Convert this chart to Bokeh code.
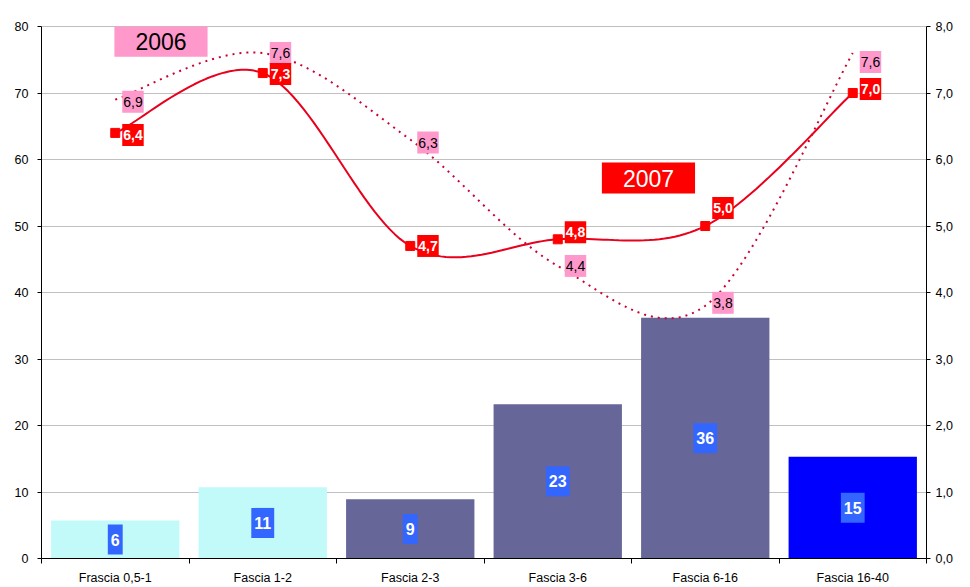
import numpy as np
from bokeh.plotting import figure
from bokeh.models import Range1d, LinearAxis, FixedTicker, Label, Span
from bokeh.embed import file_html
from bokeh.resources import INLINE

# ---- data ----
categories = ["Frascia 0,5-1", "Fascia 1-2", "Fascia 2-3", "Fascia 3-6", "Fascia 6-16", "Fascia 16-40"]
bar_values = [5.7, 10.7, 8.9, 23.2, 36.2, 15.3]
bar_colors = ["#C2FAFA", "#C2FAFA", "#666699", "#666699", "#666699", "#0000FF"]
series_2006 = [6.9, 7.6, 6.3, 4.4, 3.8, 7.6]
series_2007 = [6.4, 7.3, 4.7, 4.8, 5.0, 7.0]
left_ticks = [0, 10, 20, 30, 40, 50, 60, 70, 80]
right_ticks = [0, 1, 2, 3, 4, 5, 6, 7, 8]
right_tick_labels = ["0,0", "1,0", "2,0", "3,0", "4,0", "5,0", "6,0", "7,0", "8,0"]

# label offsets (screen px, style only)
off_2007 = [-2, -1, 0, 7, 18, 4]
off_2006 = [-2, 0, -3, 0, 3, -9]

FONT = "Liberation Sans"
n = len(categories)
xc = np.arange(n) + 0.5


def smooth(xs, ys, steps=30):
    """Excel-like smoothed line (cubic Bezier, Catmull-Rom tangents)."""
    P = np.column_stack([xs, ys]).astype(float)
    out = []
    for i in range(len(P) - 1):
        p0 = P[i - 1] if i > 0 else P[i]
        p1 = P[i]
        p2 = P[i + 1]
        p3 = P[i + 2] if i + 2 < len(P) else P[i + 1]
        c1 = p1 + (p2 - p0) / 6.0
        c2 = p2 - (p3 - p1) / 6.0
        t = np.linspace(0, 1, steps)[:, None]
        seg = ((1 - t) ** 3) * p1 + 3 * ((1 - t) ** 2) * t * c1 + 3 * (1 - t) * t ** 2 * c2 + t ** 3 * p2
        out.append(seg if i == 0 else seg[1:])
    s = np.vstack(out)
    return s[:, 0], s[:, 1]


p = figure(width=970, height=587, output_backend="svg", toolbar_location=None,
           x_range=Range1d(0, n), y_range=Range1d(0, 80),
           min_border_left=41, min_border_right=44, min_border_top=26, min_border_bottom=29)
p.extra_y_ranges = {"right": Range1d(0, 8)}
p.outline_line_color = None
p.background_fill_color = "white"
p.border_fill_color = "white"

# grid
p.xgrid.visible = False
p.ygrid.ticker = FixedTicker(ticks=left_ticks[:-1])
p.ygrid.grid_line_color = "#C0C0C0"
p.ygrid.grid_line_width = 1
p.add_layout(Span(location=80, dimension="width", line_color="#808080", line_width=1))

# bars
p.vbar(x=xc, top=bar_values, width=0.87, bottom=0, color=bar_colors, line_color=None)

# lines (secondary axis)
sx, sy = smooth(xc, series_2006)
p.line(sx, sy, y_range_name="right", line_color="#CC0033", line_width=2, line_dash="2 5")
sx, sy = smooth(xc, series_2007)
p.line(sx, sy, y_range_name="right", line_color="#E8001C", line_width=2)
p.scatter(xc, series_2007, y_range_name="right", marker="square", size=9,
          fill_color="#FF0000", line_color="#FF0000")

# axes
p.xaxis.ticker = FixedTicker(ticks=list(xc), minor_ticks=list(range(n + 1)))
p.xaxis.major_label_overrides = {float(x): c for x, c in zip(xc, categories)}
p.xaxis.major_tick_line_color = None
p.xaxis.major_tick_out = 0
p.xaxis.minor_tick_out = 5
p.xaxis.minor_tick_in = 0
p.xaxis.minor_tick_line_color = "black"
p.xaxis.axis_line_color = "black"
p.xaxis.major_label_standoff = 7
p.xaxis.major_label_text_font = FONT
p.xaxis.major_label_text_font_size = "12.5px"
p.xaxis.major_label_text_color = "black"

p.yaxis.ticker = FixedTicker(ticks=left_ticks)
p.yaxis.minor_tick_line_color = None
p.yaxis.major_tick_out = 4
p.yaxis.major_tick_in = 0
p.yaxis.major_label_standoff = 9
p.yaxis.major_label_text_font = FONT
p.yaxis.major_label_text_font_size = "12.5px"
p.yaxis.major_label_text_color = "black"
p.yaxis.axis_line_color = "black"

ry = LinearAxis(y_range_name="right", ticker=FixedTicker(ticks=right_ticks))
ry.major_label_overrides = {t: l for t, l in zip(right_ticks, right_tick_labels)}
ry.minor_tick_line_color = None
ry.major_tick_out = 4
ry.major_tick_in = 0
ry.major_label_standoff = 5
ry.major_label_text_font = FONT
ry.major_label_text_font_size = "12.5px"
ry.major_label_text_color = "black"
ry.axis_line_color = "black"
p.add_layout(ry, "right")

# bar value labels
for x, v in zip(xc, bar_values):
    p.add_layout(Label(x=x, y=v / 2, text=f"{round(v)}", text_align="center", text_baseline="middle",
                       text_font=FONT, text_font_size="16px", text_font_style="bold", text_color="white",
                       background_fill_color="#3366FF", padding=dict(x=3, y=9)))

# 2006 labels
for x, v, o in zip(xc, series_2006, off_2006):
    p.add_layout(Label(x=x, y=v, y_range_name="right", text=f"{v:.1f}".replace(".", ","),
                       x_offset=7, y_offset=o, text_align="left", text_baseline="middle",
                       text_font=FONT, text_font_size="14px", text_color="black",
                       background_fill_color="#FF99CC", padding=dict(x=1, y=6)))

# 2007 labels
for x, v, o in zip(xc, series_2007, off_2007):
    p.add_layout(Label(x=x, y=v, y_range_name="right", text=f"{v:.1f}".replace(".", ","),
                       x_offset=7, y_offset=o, text_align="left", text_baseline="middle",
                       text_font=FONT, text_font_size="14px", text_font_style="bold", text_color="white",
                       background_fill_color="#FF0000", padding=dict(x=1, y=6)))

# series title boxes
p.add_layout(Label(x=0.81, y=77.8, text="2006", text_align="center", text_baseline="middle",
                   text_font=FONT, text_font_size="23px", text_color="black",
                   background_fill_color="#FF99CC", padding=dict(x=21, y=7)))
p.add_layout(Label(x=4.115, y=57.2, text="2007", text_align="center", text_baseline="middle",
                   text_font=FONT, text_font_size="23px", text_color="white",
                   background_fill_color="#FF0000", padding=dict(x=21, y=7)))

open("out.html", "w").write(file_html(p, INLINE))
